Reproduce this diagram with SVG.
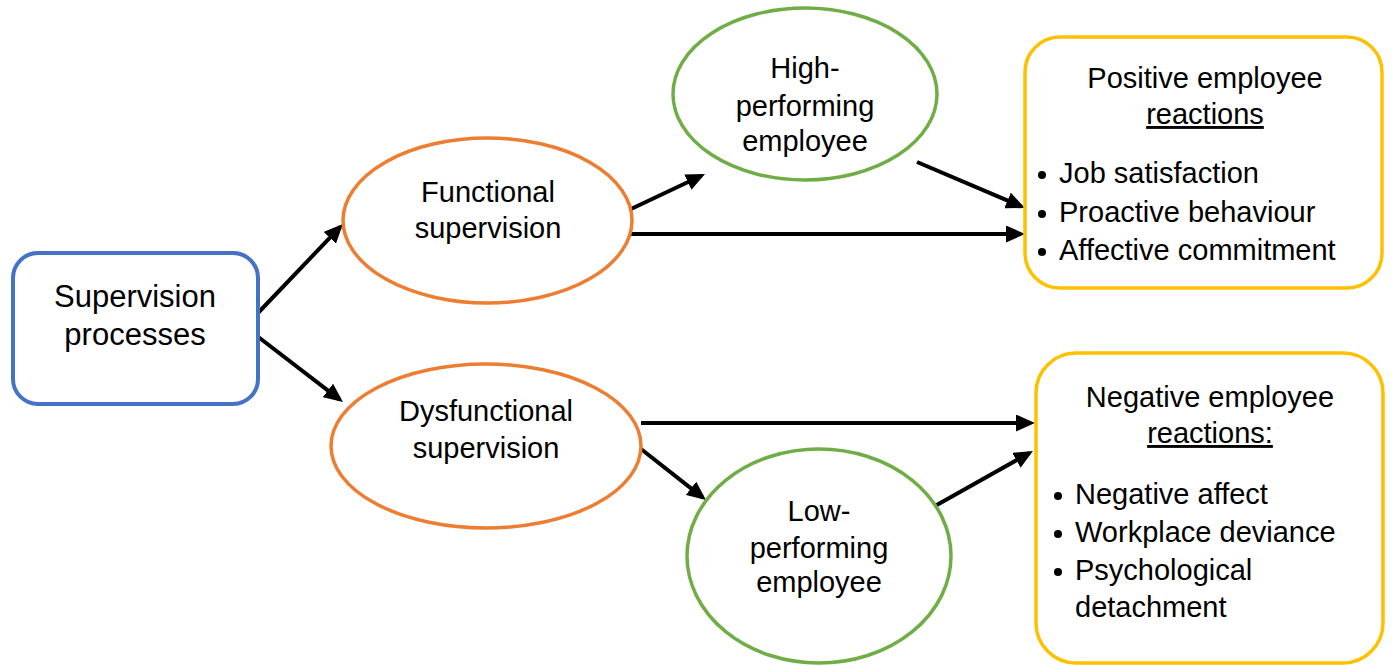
<svg xmlns="http://www.w3.org/2000/svg" width="1392" height="666" viewBox="0 0 1392 666">
  <style>
    text { font-family: "Liberation Sans", Arial, sans-serif; font-size: 29px; fill: #000; }
    .mid { text-anchor: middle; }
    .blue { fill: #fff; stroke: #4472C4; stroke-width: 4; }
    .orange { fill: #fff; stroke: #ED7D31; stroke-width: 3.5; }
    .green { fill: #fff; stroke: #70AD47; stroke-width: 3.5; }
    .gold { fill: #fff; stroke: #FFC000; stroke-width: 3.5; }
    .arrow { stroke: #000; stroke-width: 4; fill: none; marker-end: url(#head); }
    .dot { fill: #000; }
  </style>
  <defs>
    <marker id="head" markerUnits="userSpaceOnUse" viewBox="0 0 19 17" markerWidth="19" markerHeight="17" refX="15" refY="8.5" orient="auto">
      <path d="M0,0 L19,8.5 L0,17 z" fill="#000"/>
    </marker>
  </defs>
  <rect width="1392" height="666" fill="#fff"/>

  <g id="connectors">
    <line class="arrow" x1="257" y1="314" x2="340.2" y2="226.9"/>
    <line class="arrow" x1="257" y1="336" x2="339.8" y2="399.6"/>
    <line class="arrow" x1="631" y1="209" x2="701.4" y2="175.7"/>
    <line class="arrow" x1="631" y1="234" x2="1021" y2="234"/>
    <line class="arrow" x1="917" y1="162" x2="1021.3" y2="206.4"/>
    <line class="arrow" x1="641" y1="423" x2="1031" y2="423"/>
    <line class="arrow" x1="641" y1="449" x2="702.8" y2="497.6"/>
    <line class="arrow" x1="935" y1="506" x2="1029.5" y2="452.9"/>
  </g>

  <g id="supervision-processes">
    <rect class="blue" x="13" y="253" width="245" height="151" rx="25"/>
    <text class="mid" x="135" y="307" style="font-size:31px">Supervision</text>
    <text class="mid" x="135" y="345" style="font-size:31px">processes</text>
  </g>

  <g id="functional-supervision">
    <ellipse class="orange" cx="487.5" cy="220.5" rx="144.5" ry="82.5"/>
    <text class="mid" x="488" y="202">Functional</text>
    <text class="mid" x="488" y="238">supervision</text>
  </g>

  <g id="dysfunctional-supervision">
    <ellipse class="orange" cx="486" cy="446" rx="155" ry="82"/>
    <text class="mid" x="486" y="421">Dysfunctional</text>
    <text class="mid" x="486" y="458">supervision</text>
  </g>

  <g id="high-performing-employee">
    <ellipse class="green" cx="805" cy="94" rx="132" ry="86"/>
    <text class="mid" x="805" y="78">High-</text>
    <text class="mid" x="805" y="116">performing</text>
    <text class="mid" x="805" y="151">employee</text>
  </g>

  <g id="low-performing-employee">
    <ellipse class="green" cx="819" cy="556" rx="132" ry="107"/>
    <text class="mid" x="819" y="521">Low-</text>
    <text class="mid" x="819" y="558">performing</text>
    <text class="mid" x="819" y="592">employee</text>
  </g>

  <g id="positive-reactions">
    <rect class="gold" x="1025" y="37" width="357" height="251" rx="35"/>
    <text class="mid" x="1205" y="88">Positive employee</text>
    <text class="mid" x="1205" y="124" text-decoration="underline">reactions</text>
    <circle class="dot" cx="1042" cy="175" r="4"/>
    <text x="1059" y="183">Job satisfaction</text>
    <circle class="dot" cx="1042" cy="214" r="4"/>
    <text x="1059" y="222">Proactive behaviour</text>
    <circle class="dot" cx="1042" cy="252" r="4"/>
    <text x="1059" y="260">Affective commitment</text>
  </g>

  <g id="negative-reactions">
    <rect class="gold" x="1036" y="353" width="347" height="310" rx="40"/>
    <text class="mid" x="1210" y="407">Negative employee</text>
    <text class="mid" x="1210" y="443" text-decoration="underline">reactions:</text>
    <circle class="dot" cx="1058" cy="496" r="4"/>
    <text x="1075" y="504">Negative affect</text>
    <circle class="dot" cx="1058" cy="534" r="4"/>
    <text x="1075" y="542">Workplace deviance</text>
    <circle class="dot" cx="1058" cy="572" r="4"/>
    <text x="1075" y="580">Psychological</text>
    <text x="1075" y="617">detachment</text>
  </g>
</svg>
